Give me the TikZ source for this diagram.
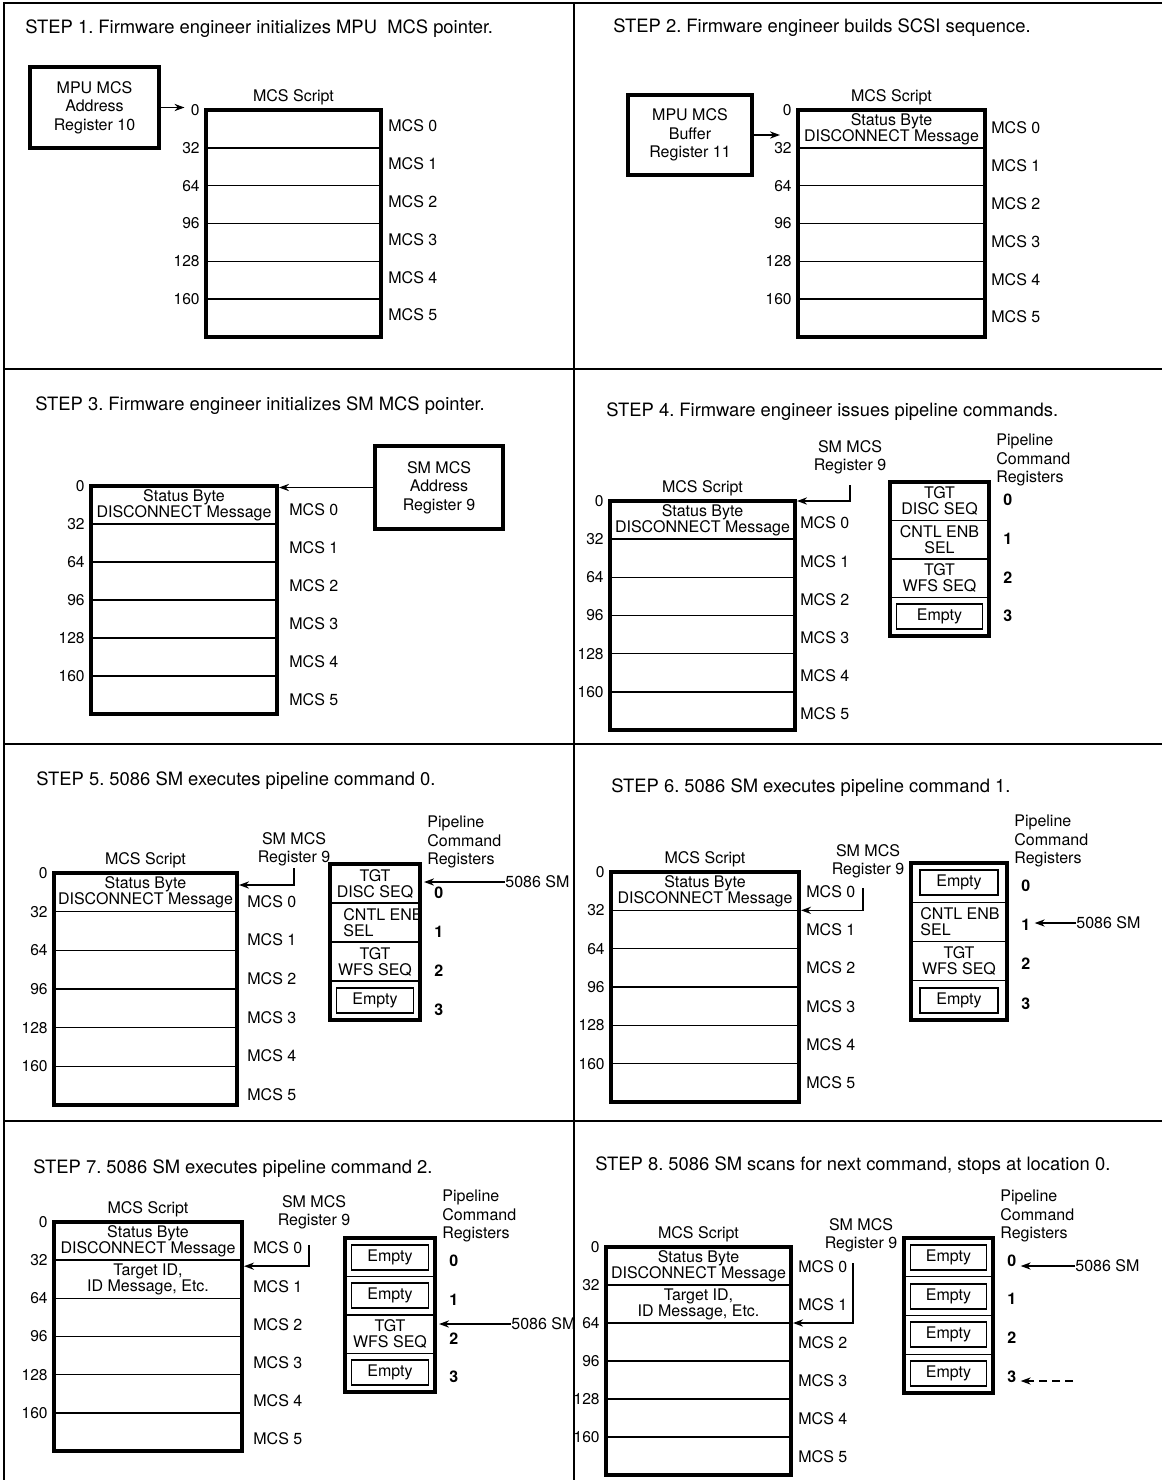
\documentclass[tikz,border=0pt]{standalone}
\usepackage{fontspec}
\setmainfont{TeX Gyre Heros}
\usetikzlibrary{arrows.meta,fit,positioning}

\newcommand\mcsscript[7]{%
  \node[script, fit={(#2,#3) (#4,#5)}] (#1) {};
  \foreach \k [evaluate=\k as \yy using #3+\k*(#5-#3)/6,
               evaluate=\k as \yc using #3+(\k+0.5)*(#5-#3)/6,
               evaluate=\k as \ym using #3+(\k+0.5)*(#5-#3)/6+#7,
               evaluate=\k as \off using int(32*\k)] in {0,...,5}{
    \ifnum\k>0 \draw[rowline] (#2,\yy) -- (#4,\yy);\fi
    \coordinate (#1-d\k) at (#4,\yy);
    \coordinate (#1-r\k) at ({(#2+#4)/2},\yc);
    \node[addr, anchor=east] (#1-a\k) at (#2-6,\yy) {\off};
    \node[lbl, anchor=west] (#1-m\k) at (#4+#6,\ym) {MCS \k};
  }%
}

\newcommand\pipebox[6]{%
  \node[pipe, fit={(#2,#3) (#4,#5)}] (#1) {};
  \foreach \k [evaluate=\k as \yy using #3+\k*(#5-#3)/4,
               evaluate=\k as \yc using #3+(\k+0.5)*(#5-#3)/4+#6] in {0,...,3}{
    \ifnum\k>0 \draw[rowline] (#2,\yy) -- (#4,\yy);\fi
    \coordinate (#1-s\k) at ({(#2+#4)/2},{\yc-#6});
    \node[idx, anchor=west] (#1-i\k) at (#4+14,\yc) {\k};
  }%
  \node[lbl, align=left, anchor=west] (#1-lbl) at (#4+7,#3-22) {Pipeline\\Command\\Registers};
}

\begin{document}
\begin{tikzpicture}[x=0.5pt, y=-0.5pt,
  panel/.style={line width=1pt},
  ttl/.style={font=\fontsize{9.2}{11}\selectfont\frenchspacing, anchor=base west, inner sep=0pt},
  lbl/.style={font=\fontsize{8}{9.2}\selectfont, inner sep=0pt, align=center},
  smlbl/.style={font=\fontsize{8}{9}\selectfont, inner sep=0pt, align=center},
  addr/.style={font=\fontsize{7.8}{9}\selectfont, inner sep=0pt},
  idx/.style={font=\fontsize{8}{9}\selectfont\bfseries, inner sep=0pt},
  cell/.style={font=\fontsize{8}{8}\selectfont, inner sep=0pt, align=center},
  script/.style={draw, line width=2pt, inner sep=0pt},
  pipe/.style={draw, line width=2pt, inner sep=0pt},
  rowline/.style={line width=0.7pt},
  reg/.style={draw, line width=2.2pt, align=center, inner sep=0pt,
              font=\fontsize{8}{9.25}\selectfont},
  emptybox/.style={draw, line width=0.9pt, minimum height=12.5pt, inner sep=0pt,
                   font=\fontsize{8}{9}\selectfont},
  arr/.style={-{Stealth[length=5pt,width=3.6pt]}, line width=0.8pt}
]
  \useasboundingbox (0,0) rectangle (1162,1480);
  \draw[panel] (4,1480) -- (4,3) -- (1162,3);
  \draw[panel] (574,3) -- (574,1480);
  \foreach \yy in {369,744,1121} \draw[panel] (4,\yy) -- (1162,\yy);

  % step 1
  \node[ttl] (ttl1) at (25,33) {STEP 1. Firmware engineer initializes MPU~ MCS pointer.};
  \mcsscript{scr1}{206}{110}{381}{337}{7}{-3}
  \node[lbl, above=1.5pt of scr1] (scr1-hd) {MCS Script};
  \node[reg, minimum width=64.5pt, minimum height=40.5pt] (mpu1) at (94.5,107.5)
    {MPU MCS\\Address\\Register 10};
  \draw[arr, shorten >=3pt] (mpu1.east) -- (mpu1.east -| scr1-a0.west);

  % step 2
  \node[ttl] (ttl2) at (613,32) {STEP 2. Firmware engineer builds SCSI sequence.};
  \mcsscript{scr2}{798}{110}{985}{337}{6}{-1}
  \node[lbl, above=1.5pt of scr2] (scr2-hd) {MCS Script};
  \node[cell] (scr2-t0) at (scr2-r0) {Status Byte\\DISCONNECT Message};
  \node[reg, minimum width=62pt, minimum height=40pt] (buf2) at (690,135)
    {MPU MCS\\Buffer\\Register 11};
  \draw[arr, shorten >=8pt] (buf2.east) -- (buf2.east -| scr2.west);

  % step 3
  \node[ttl] (ttl3) at (35,410) {STEP 3. Firmware engineer initializes SM MCS pointer.};
  \mcsscript{scr3}{91}{486}{277}{714}{12}{5}
  \node[cell] (scr3-t0) at (scr3-r0) {Status Byte\\DISCONNECT Message};
  \node[reg, minimum width=64pt, minimum height=41.5pt] (smreg3) at (439,487.5)
    {SM MCS\\Address\\Register 9};
  \draw[arr] (smreg3.west) -- (smreg3.west -| scr3.east);

  % step 4
  \node[ttl] (ttl4) at (606,416) {STEP 4. Firmware engineer issues pipeline commands.};
  \mcsscript{scr4}{610}{501}{795}{730}{5}{3}
  \node[lbl, above=1.5pt of scr4] (scr4-hd) {MCS Script};
  \node[cell] (scr4-t0) at (scr4-r0) {Status Byte\\DISCONNECT Message};
  \node[smlbl] (sm4) at (850,457) {SM MCS\\Register 9};
  \coordinate (sm4-ft) at (850,485);
  \draw[arr, shorten >=1pt] (sm4-ft) |- (scr4-d0);
  \pipebox{pipe4}{890}{482}{989}{636}{-1}
  \node[cell] (pipe4-c0) at (pipe4-s0) {TGT\\DISC SEQ};
  \node[cell] (pipe4-c1) at (pipe4-s1) {CNTL ENB\\SEL};
  \node[cell] (pipe4-c2) at (pipe4-s2) {TGT\\WFS SEQ};
  \node[emptybox, minimum width=43pt] (pipe4-c3) at (pipe4-s3) {Empty};

  % step 5
  \node[ttl] (ttl5) at (36,785) {STEP 5. 5086 SM executes pipeline command 0.};
  \mcsscript{scr5}{54}{873}{237}{1105}{10}{9}
  \node[lbl, above=1.5pt of scr5] (scr5-hd) {MCS Script};
  \node[cell] (scr5-t0) at (scr5-r0) {Status Byte\\DISCONNECT Message};
  \node[smlbl] (sm5) at (294,849) {SM MCS\\Register 9};
  \coordinate (sm5-ft) at (294,868);
  \draw[arr, shorten >=1pt] (sm5-ft) |- ([yshift=-6pt]scr5-d0);
  \pipebox{pipe5}{330}{864}{420}{1020}{9}
  \node[cell] (pipe5-c0) at (pipe5-s0) {TGT\\DISC SEQ};
  \node[cell, align=left, anchor=west, xshift=7.5pt] (pipe5-c1) at (pipe5.west |- pipe5-s1)
    {CNTL ENB\\SEL};
  \node[cell] (pipe5-c2) at (pipe5-s2) {TGT\\WFS SEQ};
  \node[emptybox, minimum width=38.5pt] (pipe5-c3) at (pipe5-s3) {Empty};
  \node[lbl, anchor=west] (sm5x) at (505,882) {5086 SM};
  \draw[arr, shorten >=1pt] (sm5x.west) -- (sm5x.west -| pipe5.east);

  % step 6
  \node[ttl] (ttl6) at (611,792) {STEP 6. 5086 SM executes pipeline command 1.};
  \mcsscript{scr6}{611}{872}{799}{1102}{7}{0}
  \node[lbl, above=1.5pt of scr6] (scr6-hd) {MCS Script};
  \node[cell] (scr6-t0) at (scr6-r0) {Status Byte\\DISCONNECT Message};
  \node[smlbl] (sm6) at (868,861) {SM MCS\\Register 9};
  \coordinate (sm6-ft) at (863,888);
  \draw[arr, shorten >=1pt] (sm6-ft) |- (scr6-d1);
  \pipebox{pipe6}{911}{863}{1007}{1020}{3}
  \node[emptybox, minimum width=39pt] (pipe6-c0) at (pipe6-s0) {Empty};
  \node[cell, align=left, anchor=west, xshift=5.5pt] (pipe6-c1) at (pipe6.west |- pipe6-s1)
    {CNTL ENB\\SEL};
  \node[cell] (pipe6-c2) at (pipe6-s2) {TGT\\WFS SEQ};
  \node[emptybox, minimum width=39pt] (pipe6-c3) at (pipe6-s3) {Empty};
  \node[lbl, anchor=west] (sm6x) at (1076,923) {5086 SM};
  \draw[arr, shorten >=2pt] (sm6x.west) -- (sm6x.west -| pipe6-i1.east);

  % step 7
  \node[ttl] (ttl7) at (33,1173) {STEP 7. 5086 SM executes pipeline command 2.};
  \mcsscript{scr7}{54}{1222}{242}{1451}{11}{7}
  \node[lbl, above=1.5pt of scr7] (scr7-hd) {MCS Script};
  \node[cell] (scr7-t0) at (scr7-r0) {Status Byte\\DISCONNECT Message};
  \node[cell] (scr7-t1) at (scr7-r1) {Target ID,\\ID Message, Etc.};
  \node[smlbl] (sm7) at (314,1212) {SM MCS\\Register 9};
  \coordinate (sm7-ft) at (309,1245);
  \draw[arr, shorten >=1pt] (sm7-ft) |- ([yshift=-3pt]scr7-d1);
  \pipebox{pipe7}{345}{1238}{435}{1392}{4}
  \node[emptybox, minimum width=38.5pt] (pipe7-c0) at (pipe7-s0) {Empty};
  \node[emptybox, minimum width=38.5pt] (pipe7-c1) at (pipe7-s1) {Empty};
  \node[cell] (pipe7-c2) at (pipe7-s2) {TGT\\WFS SEQ};
  \node[emptybox, minimum width=38.5pt] (pipe7-c3) at (pipe7-s3) {Empty};
  \node[lbl, anchor=west] (sm7x) at (511,1324) {5086 SM};
  \draw[arr, shorten >=1pt] (sm7x.west) -- (sm7x.west -| pipe7.east);

  % step 8
  \node[ttl] (ttl8) at (595,1170) {STEP 8. 5086 SM scans for next command, stops at location 0.};
  \mcsscript{scr8}{606}{1247}{791}{1475}{7}{1}
  \node[lbl, above=1.5pt of scr8] (scr8-hd) {MCS Script};
  \node[cell] (scr8-t0) at (scr8-r0) {Status Byte\\DISCONNECT Message};
  \node[cell] (scr8-t1) at (scr8-r1) {Target ID,\\ID Message, Etc.};
  \node[smlbl] (sm8) at (861,1235) {SM MCS\\Register 9};
  \coordinate (sm8-ft) at (853,1263);
  \draw[arr, shorten >=1pt] (sm8-ft) |- (scr8-d2);
  \pipebox{pipe8}{904}{1238}{993}{1393}{3}
  \node[emptybox, minimum width=38pt] (pipe8-c0) at (pipe8-s0) {Empty};
  \node[emptybox, minimum width=38pt] (pipe8-c1) at (pipe8-s1) {Empty};
  \node[emptybox, minimum width=38pt] (pipe8-c2) at (pipe8-s2) {Empty};
  \node[emptybox, minimum width=38pt] (pipe8-c3) at (pipe8-s3) {Empty};
  \node[lbl, anchor=west] (sm8x) at (1075,1266) {5086 SM};
  \draw[arr, shorten >=2pt] (sm8x.west) -- (sm8x.west -| pipe8-i0.east);
  \coordinate (scan8) at (1073,1381);
  \draw[arr, dash pattern=on 4pt off 2.5pt, shorten >=2pt] (scan8) -- (scan8 -| pipe8-i3.east);
\end{tikzpicture}
\end{document}
